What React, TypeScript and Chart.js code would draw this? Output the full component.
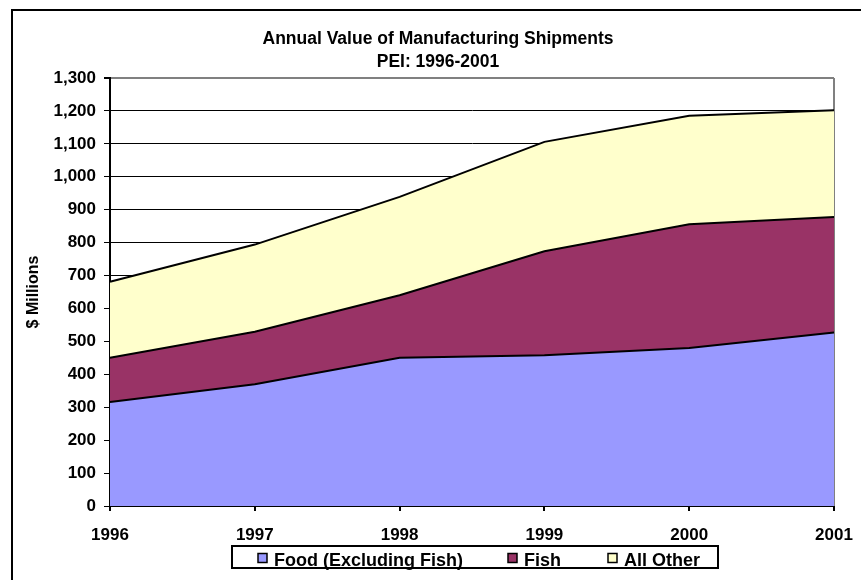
import React, { useEffect, useRef } from "react";
import { Chart, registerables } from "chart.js";

Chart.register(...registerables);

const years = ["1996", "1997", "1998", "1999", "2000", "2001"];
const foodValues = [316, 370, 450, 458, 480, 527];
const fishValues = [134, 159, 190, 316, 376, 351];
const otherValues = [231, 265, 299, 332, 329, 324];
const seriesLabels = ["Food (Excluding Fish)", "Fish", "All Other"];
const seriesColors = ["#9999FF", "#993366", "#FFFFCC"];
const titleLines = ["Annual Value of Manufacturing Shipments", "PEI: 1996-2001"];
const yAxisTitle = "$ Millions";
const yMin = 0;
const yMax = 1300;
const yStep = 100;

const FONT = "'Liberation Sans', Arial, Helvetica, sans-serif";

const framePlugin = {
  id: "frame",
  beforeDraw(chart: any) {
    const { ctx, width, height } = chart;
    ctx.save();
    ctx.fillStyle = "#ffffff";
    ctx.fillRect(0, 0, width, height);
    ctx.strokeStyle = "#000000";
    ctx.lineWidth = 2;
    ctx.strokeRect(12, 10, width + 20, height + 20);
    ctx.fillStyle = "#000000";
    ctx.font = `bold 17.5px ${FONT}`;
    ctx.textAlign = "center";
    ctx.textBaseline = "alphabetic";
    titleLines.forEach((line, i) => {
      ctx.fillText(line, 438, 43.5 + i * 23);
    });
    ctx.restore();
  },
  beforeDatasetsDraw(chart: any) {
    const { ctx, chartArea } = chart;
    ctx.save();
    ctx.strokeStyle = "#808080";
    ctx.lineWidth = 2;
    ctx.beginPath();
    ctx.moveTo(chartArea.right, chartArea.top);
    ctx.lineTo(chartArea.right, chartArea.bottom);
    ctx.stroke();
    ctx.restore();
  },
  afterDraw(chart: any) {
    const { ctx } = chart;
    ctx.save();
    ctx.strokeStyle = "#000000";
    ctx.lineWidth = 2;
    ctx.strokeRect(232, 546, 486, 22);
    const itemX = [258, 508, 608];
    ctx.font = `bold 18px ${FONT}`;
    ctx.textAlign = "left";
    ctx.textBaseline = "alphabetic";
    chart.data.datasets.forEach((ds: any, i: number) => {
      const x = itemX[i];
      ctx.fillStyle = ds.backgroundColor;
      ctx.fillRect(x, 553.5, 9, 9);
      ctx.lineWidth = 1.5;
      ctx.strokeStyle = "#000000";
      ctx.strokeRect(x, 553.5, 9, 9);
      ctx.fillStyle = "#000000";
      ctx.fillText(ds.label, x + 16, 565.5);
    });
    ctx.restore();
  },
};

export default function App() {
  const canvasRef = useRef<HTMLCanvasElement | null>(null);

  useEffect(() => {
    const canvas = canvasRef.current;
    if (!canvas) return;
    Chart.defaults.color = "#000000";
    Chart.defaults.font.family = FONT;

    const seriesValues = [foodValues, fishValues, otherValues];
    const chart = new Chart(canvas, {
      type: "line",
      data: {
        labels: years,
        datasets: seriesValues.map((vals, i) => ({
          label: seriesLabels[i],
          data: vals,
          backgroundColor: seriesColors[i],
          borderColor: "#000000",
          borderWidth: 2,
          pointRadius: 0,
          tension: 0,
          fill: i === 0 ? "origin" : "-1",
        })),
      },
      options: {
        animation: false,
        responsive: false,
        devicePixelRatio: 1,
        events: [],
        layout: { padding: { top: 78, left: 20, right: 27, bottom: 0 } },
        plugins: {
          legend: { display: false },
          title: { display: false },
          tooltip: { enabled: false },
        },
        scales: {
          x: {
            type: "category",
            offset: false,
            grid: {
              drawOnChartArea: false,
              drawTicks: true,
              tickLength: 5,
              color: "#000000",
              tickColor: "#000000",
              lineWidth: 2,
            },
            border: { display: true, color: "#000000", width: 2 },
            ticks: {
              font: { size: 17, weight: "bold" },
              padding: 14,
              maxRotation: 0,
              autoSkip: false,
            },
            afterFit(scale: any) {
              scale.height = 74;
              scale.paddingLeft = 0;
              scale.paddingRight = 0;
            },
          },
          y: {
            stacked: true,
            min: yMin,
            max: yMax,
            grid: {
              drawTicks: true,
              tickLength: 6,
              color: (c: any) => (c.tick && c.tick.value === yMax ? "#808080" : "#000000"),
              lineWidth: (c: any) => (c.tick && c.tick.value === yMax ? 2 : 1),
              tickColor: "#000000",
            },
            border: { display: true, color: "#000000", width: 2 },
            ticks: {
              stepSize: yStep,
              font: { size: 17, weight: "bold" },
              padding: 8,
              callback: (v: any) => Number(v).toLocaleString("en-US"),
            },
            title: {
              display: true,
              text: yAxisTitle,
              font: { size: 16, weight: "bold" },
              padding: { top: 4, bottom: 0 },
            },
            afterFit(scale: any) {
              scale.width = 90;
            },
          },
        },
      },
      plugins: [framePlugin],
    });
    return () => chart.destroy();
  }, []);

  return (
    <div style={{ position: "fixed", left: 0, top: 0, width: 861, height: 580 }}>
      <canvas ref={canvasRef} width={861} height={580} style={{ display: "block" }} />
    </div>
  );
}
